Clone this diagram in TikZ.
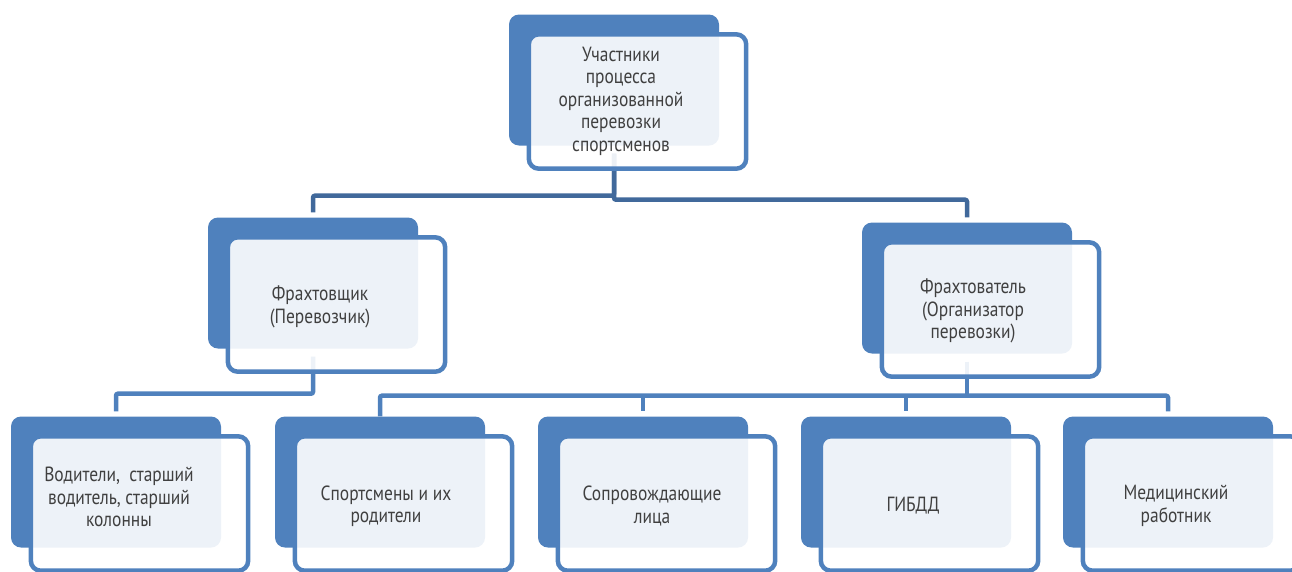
\documentclass[tikz,border=0pt]{standalone}
\usepackage{fontspec}
\setmainfont{PT Sans}[FakeStretch=0.85]
\usetikzlibrary{calc,backgrounds}
\definecolor{boxblue}{HTML}{4F81BD}
\definecolor{linkdark}{HTML}{41699B}
\definecolor{txtgray}{HTML}{404040}

\begin{document}
\begin{tikzpicture}[x=1pt,y=-1pt,
   back/.style={rectangle,fill=boxblue,rounded corners=10pt,
    minimum width=210pt,minimum height=131pt,inner sep=0pt},
   front/.style={draw=boxblue,line width=4.5pt,fill=white,
    fill opacity=0.9,rounded corners=10pt},
   txt/.style={align=center,text=txtgray,inner sep=0pt,
    font=\fontsize{20.5}{22.5}\selectfont},
   link/.style={draw=boxblue,line width=4.5pt,rounded corners=2pt,
    shorten <=8pt,shorten >=5pt},
   toplink/.style={link,draw=linkdark}
    ]
  \useasboundingbox (0,0) rectangle (1292,571);
  \clip (0,0) rectangle (1292,571);

  % -- top
  \node[back] at (614,80) (top) {};
  \draw[front] ($(top.north west)+(20,20)$) rectangle ($(top.south east)+(27,23)$);
  \node[txt] at ($(top)+(7,21)$) (top-t) {Участники\\процесса\\организованной\\перевозки\\спортсменов};

  % -- middle row
  \node[back] at (313,283) (carr) {};
  \draw[front] ($(carr.north west)+(20,20)$) rectangle ($(carr.south east)+(27,23)$);
  \node[txt] at ($(carr)+(7,24)$) (carr-t) {Фрахтовщик\\(Перевозчик)};

  \node[back] at (967,288) (cli) {};
  \draw[front] ($(cli.north west)+(20,20)$) rectangle ($(cli.south east)+(27,23)$);
  \node[txt] at ($(cli)+(6,23)$) (cli-t) {Фрахтователь\\(Организатор\\перевозки)};

  % -- bottom row
  \node[back] at (116,482) (drv) {};
  \draw[front] ($(drv.north west)+(20,20)$) rectangle ($(drv.south east)+(27,23)$);
  \node[txt] at ($(drv)+(3,15)$) (drv-t) {Водители,\ \ старший\\водитель, старший\\колонны};

  \node[back] at (380,482) (ath) {};
  \draw[front] ($(ath.north west)+(20,20)$) rectangle ($(ath.south east)+(27,23)$);
  \node[txt] at ($(ath)+(6,24)$) (ath-t) {Спортсмены и их\\родители};

  \node[back] at (643,482) (esc) {};
  \draw[front] ($(esc.north west)+(20,20)$) rectangle ($(esc.south east)+(27,23)$);
  \node[txt] at ($(esc)+(9,24)$) (esc-t) {Сопровождающие\\лица};

  \node[back] at (906,482) (gib) {};
  \draw[front] ($(gib.north west)+(20,20)$) rectangle ($(gib.south east)+(27,23)$);
  \node[txt] at ($(gib)+(7,24)$) (gib-t) {ГИБДД};

  \node[back] at (1168,482) (med) {};
  \draw[front] ($(med.north west)+(20,20)$) rectangle ($(med.south east)+(27,23)$);
  \node[txt] at ($(med)+(8,24)$) (med-t) {Медицинский\\работник};

  % -- connectors
  \begin{scope}[on background layer]
   \draw[toplink] (top.south) -- ++(0,50) -| (carr.north);
   \draw[toplink] (top.south) -- ++(0,54) -| (cli.north);
   \draw[link] (carr.south) -- ++(0,45) -| (drv.north);
   \draw[link,shorten >=0pt] (cli.south) -- ++(0,42) coordinate (cj);
   \draw[link,shorten <=0pt] (ath.north) |- (cj) -| (med.north);
   \draw[link,shorten <=0pt] (esc.north |- cj) -- (esc.north);
   \draw[link,shorten <=0pt] (gib.north |- cj) -- (gib.north);
  \end{scope}

\end{tikzpicture}
\end{document}
